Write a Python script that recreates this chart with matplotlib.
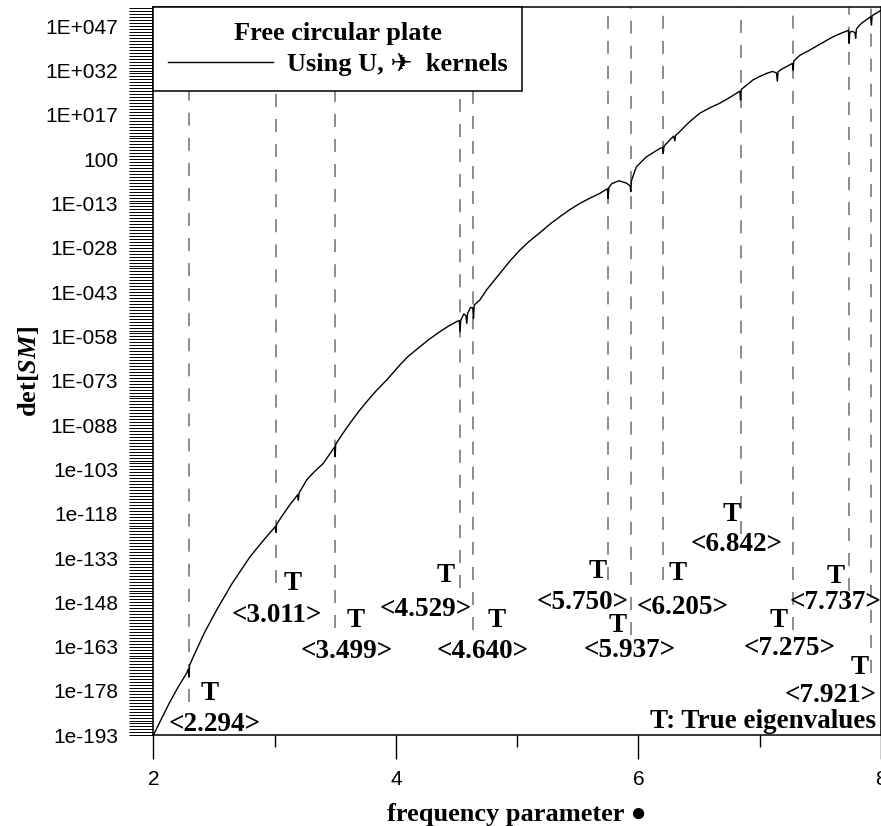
import matplotlib

matplotlib.use("Agg")
import matplotlib.pyplot as plt
import numpy as np
from matplotlib.font_manager import FontProperties
from matplotlib.ticker import FixedFormatter, FixedLocator, NullFormatter

plt.rcParams["mathtext.fontset"] = "custom"
plt.rcParams["mathtext.it"] = "Liberation Serif:italic:bold"
plt.rcParams["mathtext.rm"] = "Liberation Serif:bold"

SERIF = ["Liberation Serif", "DejaVu Sans"]

# determinant curve: frequency parameter vs log10(det[SM])
FREQ = [
    2.000, 2.070, 2.138, 2.210, 2.275, 2.288, 2.294, 2.299, 2.330, 2.420,
    2.522, 2.650, 2.797, 2.900, 3.005, 3.011, 3.017, 3.058, 3.120, 3.190,
    3.196, 3.202, 3.264, 3.330, 3.401, 3.493, 3.499, 3.504, 3.553, 3.621,
    3.690, 3.759, 3.840, 3.923, 4.032, 4.100, 4.198, 4.280, 4.363, 4.430,
    4.500, 4.523, 4.529, 4.535, 4.560, 4.578, 4.585, 4.591, 4.615, 4.634,
    4.640, 4.646, 4.692, 4.747, 4.857, 4.940, 5.022, 5.100, 5.190, 5.270,
    5.351, 5.430, 5.516, 5.600, 5.681, 5.744, 5.750, 5.756, 5.780, 5.840,
    5.900, 5.931, 5.937, 5.943, 5.983, 6.066, 6.176, 6.199, 6.205, 6.211,
    6.231, 6.290, 6.300, 6.306, 6.340, 6.390, 6.437, 6.504, 6.580, 6.669,
    6.750, 6.836, 6.842, 6.848, 6.944, 7.000, 7.055, 7.105, 7.138, 7.145,
    7.152, 7.178, 7.247, 7.269, 7.275, 7.281, 7.329, 7.411, 7.500, 7.604,
    7.670, 7.731, 7.737, 7.743, 7.765, 7.785, 7.791, 7.797, 7.824, 7.850,
    7.880, 7.915, 7.921, 7.927, 7.965, 8.000,
]
LOG_DET = [
    -193.0, -187.2, -181.6, -176.3, -172.0, -170.6, -173.3, -169.3, -166.4, -158.4,
    -150.6, -141.6, -132.6, -127.4, -122.4, -124.3, -121.6, -119.0, -115.3, -111.6,
    -113.4, -111.0, -106.6, -103.7, -101.0, -95.5, -98.7, -94.5, -91.4, -87.4,
    -83.6, -80.1, -76.3, -72.8, -67.7, -64.8, -61.5, -58.8, -56.4, -54.6,
    -53.0, -52.6, -56.4, -52.5, -50.4, -51.0, -53.6, -50.3, -48.2, -48.3,
    -51.9, -47.4, -45.7, -42.3, -36.7, -32.5, -28.8, -25.8, -22.8, -20.0,
    -17.5, -15.2, -13.0, -11.2, -9.6, -8.0, -11.3, -7.6, -6.3, -5.3,
    -6.1, -7.0, -9.0, -5.2, -0.6, 2.8, 5.6, 6.0, 3.9, 6.4,
    7.3, 9.8, 8.2, 10.0, 11.3, 13.4, 15.2, 17.5, 19.2, 20.9,
    22.8, 25.0, 22.0, 25.6, 28.8, 30.0, 31.0, 31.7, 31.2, 28.4,
    31.6, 32.4, 33.9, 34.4, 32.1, 35.2, 37.1, 38.9, 41.0, 43.4,
    44.6, 45.6, 41.2, 45.0, 45.3, 44.8, 42.9, 46.0, 47.4, 48.3,
    49.2, 50.2, 47.4, 50.6, 51.5, 52.4,
]

EIGENVALUES = [2.294, 3.011, 3.499, 4.529, 4.640, 5.750,
               5.937, 6.205, 6.842, 7.275, 7.737, 7.921]
GUIDE_BOTTOM = [-181.7, -141.5, -156.7, -143.2, -157.4, -140.5,
                -159.1, -140.5, -125.0, -157.4, -144.0, -171.9]

# label anchors (x, log10 y) for the "T" marks and the value tags
T_POS = [(2.461, -178.8), (3.149, -141.6), (3.670, -154.0), (4.412, -138.8),
         (4.832, -154.0), (5.665, -137.4), (5.829, -156.0), (6.321, -138.4),
         (6.769, -118.4), (7.156, -154.0), (7.626, -139.1), (7.824, -170.0)]
VAL_POS = [(2.508, -189.5), (3.017, -152.3), (3.594, -164.7), (4.247, -150.5),
           (4.717, -164.5), (5.541, -147.9), (5.928, -164.4), (6.365, -149.9),
           (6.810, -128.3), (7.247, -163.5), (7.622, -148.2), (7.585, -179.4)]

Y_TICK_EXP = list(range(-193, 48, 15))
Y_TICK_LABELS = ["1e-193", "1e-178", "1e-163", "1e-148", "1e-133", "1e-118",
                 "1e-103", "1E-088", "1E-073", "1E-058", "1E-043", "1E-028",
                 "1E-013", "100", "1E+017", "1E+032", "1E+047"]
X_TICKS = [2, 4, 6, 8]
X_MINOR = [3, 5, 7]
Y_TOP = 53.4

fig = plt.figure(figsize=(8.81, 8.26), dpi=100)
ax = fig.add_axes([153.3 / 881, 90.7 / 826, 727.7 / 881, 728 / 826])
ax.set_yscale("log")

ax.plot(FREQ, 10.0 ** np.array(LOG_DET), color="black", lw=1.0,
        label="Using U, \u2708  kernels", zorder=3)
ax.vlines(EIGENVALUES, 10.0 ** np.array(GUIDE_BOTTOM), 10.0 ** Y_TOP,
          colors="#6e6e6e", linestyles=(0, (8.5, 7.9)), lw=1.1, zorder=2)

bold = FontProperties(family=SERIF, weight="bold", size=19.5)
for ev, (tx, ty), (vx, vy) in zip(EIGENVALUES, T_POS, VAL_POS):
    ax.text(tx, 10.0 ** ty, "T", fontproperties=bold, ha="center", va="center")
    ax.text(vx, 10.0 ** vy, f"<{ev:.3f}>", fontproperties=bold,
            ha="center", va="center")
ax.text(0.993, 0.019, "T: True eigenvalues", fontproperties=bold,
        transform=ax.transAxes, ha="right", va="center")

ax.set_xlim(2, 8)
ax.set_ylim(10.0 ** -193, 10.0 ** Y_TOP)

ax.xaxis.set_major_locator(FixedLocator(X_TICKS))
ax.xaxis.set_minor_locator(FixedLocator(X_MINOR))
ax.yaxis.set_major_locator(FixedLocator([10.0 ** e for e in Y_TICK_EXP]))
ax.yaxis.set_major_formatter(FixedFormatter(Y_TICK_LABELS))
ax.yaxis.set_minor_locator(FixedLocator([10.0 ** e for e in range(-193, 54)]))
ax.yaxis.set_minor_formatter(NullFormatter())

ax.tick_params(axis="x", which="major", direction="out", length=17.3, width=1.0,
               labelsize=15, pad=8, top=False)
ax.tick_params(axis="x", which="minor", direction="out", length=8.6, width=1.0,
               top=False)
ax.tick_params(axis="y", which="both", direction="out", length=17.3, width=0.7,
               right=False, labelsize=15, pad=8)
for lbl in ax.get_xticklabels() + ax.get_yticklabels():
    lbl.set_fontfamily("Liberation Sans")
for spine in ax.spines.values():
    spine.set_linewidth(1.1)

label_font = FontProperties(family=SERIF, weight="bold", size=19)
ax.set_xlabel("frequency parameter \u25cf", fontproperties=label_font, labelpad=10)
ax.set_ylabel("det[$SM$]", fontproperties=label_font, labelpad=3)

leg = ax.legend(loc="upper left", bbox_to_anchor=(0, 1), borderaxespad=0,
                title="Free circular plate",
                prop=FontProperties(family=SERIF, weight="bold", size=19),
                title_fontproperties=FontProperties(family=SERIF, weight="bold", size=19),
                handlelength=4.0, handletextpad=0.5, borderpad=0.55,
                labelspacing=0.3, fancybox=False, framealpha=1,
                edgecolor="black")
leg.get_frame().set_linewidth(1.1)

fig.savefig("out.png", dpi=100)
